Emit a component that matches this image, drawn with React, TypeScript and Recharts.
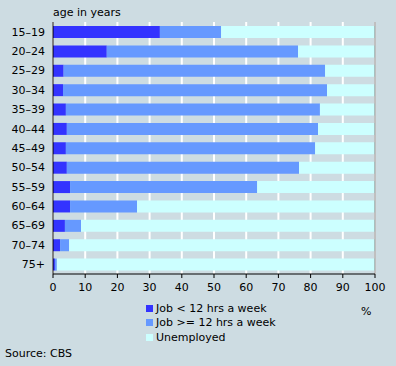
import { Bar, BarChart, CartesianGrid, ReferenceLine, XAxis, YAxis } from "recharts";

const ageGroups = ["15–19", "20–24", "25–29", "30–34", "35–39", "40–44", "45–49", "50–54", "55–59", "60–64", "65–69", "70–74", "75+"];
const jobShort = [33.2, 16.7, 3.3, 3.1, 4.0, 4.3, 4.0, 4.3, 5.3, 5.3, 3.7, 2.2, 0.6];
const jobLong = [19.0, 59.4, 81.2, 82.0, 78.9, 78.0, 77.4, 72.1, 58.1, 20.8, 5.0, 2.8, 0.6];
const xTicks = [0, 10, 20, 30, 40, 50, 60, 70, 80, 90, 100];

const data = ageGroups.map((age, i) => ({
  age,
  short: jobShort[i],
  long: jobLong[i],
  unemployed: +(100 - jobShort[i] - jobLong[i]).toFixed(1),
}));

const legendItems = [
  { label: "Job < 12 hrs a week", color: "#3333ff" },
  { label: "Job >= 12 hrs a week", color: "#6699ff" },
  { label: "Unemployed", color: "#ccffff" },
];

const font = "'DejaVu Sans', Verdana, sans-serif";

export default function App() {
  return (
    <div
      style={{
        position: "absolute",
        left: 0,
        top: 0,
        width: 396,
        height: 366,
        background: "#cddce2",
        fontFamily: font,
        fontSize: 11,
        color: "#000",
      }}
    >
      <div style={{ position: "absolute", left: 53, top: 6 }}>age in years</div>
      <BarChart
        width={396}
        height={366}
        data={data}
        layout="vertical"
        margin={{ top: 22, right: 21, bottom: 72, left: 0 }}
        barSize={12}
      >
        <CartesianGrid horizontal={false} stroke="#ffffff" strokeWidth={2} />
        <XAxis
          type="number"
          domain={[0, 100]}
          ticks={xTicks}
          interval={0}
          height={20}
          axisLine={{ stroke: "#000" }}
          tickLine={{ stroke: "#000" }}
          tickSize={4}
          tickMargin={5}
          tick={{ fill: "#000", fontSize: 11, fontFamily: font }}
        />
        <XAxis
          xAxisId="top"
          orientation="top"
          type="number"
          domain={[0, 100]}
          height={0}
          tick={false}
          tickLine={false}
          axisLine={{ stroke: "#808080" }}
        />
        <YAxis
          type="category"
          dataKey="age"
          width={53}
          axisLine={{ stroke: "#000" }}
          tickLine={false}
          tick={{ fill: "#000", fontSize: 11, fontFamily: font }}
        />
        <ReferenceLine x={100} stroke="#808080" />
        <Bar dataKey="short" stackId="a" fill="#3333ff" isAnimationActive={false} />
        <Bar dataKey="long" stackId="a" fill="#6699ff" isAnimationActive={false} />
        <Bar dataKey="unemployed" stackId="a" fill="#ccffff" isAnimationActive={false} />
      </BarChart>
      <div style={{ position: "absolute", left: 146, top: 301 }}>
        {legendItems.map((item) => (
          <div key={item.label} style={{ display: "flex", alignItems: "center", height: 14.5 }}>
            <span style={{ width: 7, height: 7, background: item.color, marginRight: 3 }} />
            <span>{item.label}</span>
          </div>
        ))}
      </div>
      <div style={{ position: "absolute", left: 361, top: 305 }}>%</div>
      <div style={{ position: "absolute", left: 5, top: 347 }}>Source: CBS</div>
    </div>
  );
}
